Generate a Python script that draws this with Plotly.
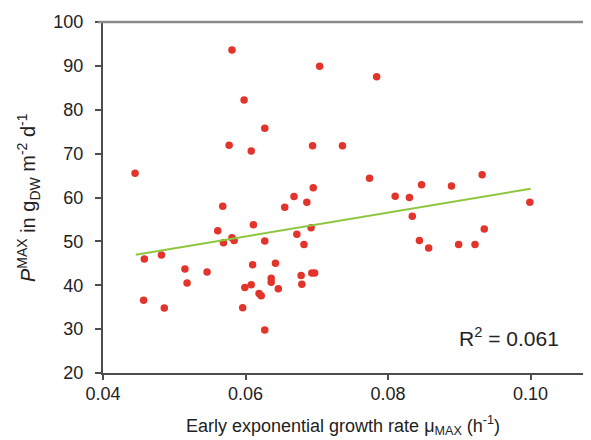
import plotly.graph_objects as go

# ── Data ─────────────────────────────────────────────────────────────────────
mu_max = [
    0.0445, 0.0581, 0.0598, 0.0627, 0.0577, 0.0608, 0.0568, 0.0668, 0.0655, 0.0686,
    0.0611, 0.0704, 0.0784, 0.0694, 0.0736, 0.0774, 0.0932, 0.0695, 0.0810, 0.0830,
    0.0847, 0.0889, 0.0999, 0.0834, 0.0458, 0.0482, 0.0457, 0.0486, 0.0515, 0.0518,
    0.0546, 0.0561, 0.0569, 0.0581, 0.0584, 0.0610, 0.0627, 0.0596, 0.0599, 0.0608,
    0.0619, 0.0622, 0.0627, 0.0636, 0.0636, 0.0642, 0.0646, 0.0672, 0.0682, 0.0678,
    0.0679, 0.0692, 0.0693, 0.0697, 0.0844, 0.0857, 0.0899, 0.0922, 0.0935,
]
p_max = [
    65.5, 93.6, 82.2, 75.8, 71.9, 70.6, 58.0, 60.2, 57.8, 58.9,
    53.8, 89.9, 87.5, 71.8, 71.8, 64.4, 65.2, 62.2, 60.3, 60.0,
    62.9, 62.6, 58.9, 55.7, 46.0, 46.9, 36.6, 34.8, 43.7, 40.5,
    43.0, 52.4, 49.7, 50.8, 50.2, 44.7, 50.1, 34.9, 39.5, 40.1,
    38.1, 37.6, 29.8, 41.6, 40.7, 45.0, 39.2, 51.6, 49.3, 42.2,
    40.2, 53.1, 42.8, 42.8, 50.2, 48.5, 49.3, 49.3, 52.8,
]
trend_x = [0.0446, 0.1000]
trend_y = [46.95, 62.0]
x_ticks = [0.04, 0.06, 0.08, 0.10]
x_tick_labels = ["0.04", "0.06", "0.08", "0.10"]
y_ticks = [20, 30, 40, 50, 60, 70, 80, 90, 100]
r2_text = "R<sup>2</sup> = 0.061"
x_title = "Early exponential growth rate μ<sub>MAX</sub> (h<sup>-1</sup>)"
y_title = "<i>P</i><sup>MAX</sup> in g<sub>DW</sub> m<sup>-2</sup> d<sup>-1</sup>"

FONT = "Liberation Sans, Arial, sans-serif"
AX = "#4d4d4d"

fig = go.Figure()
fig.add_trace(go.Scatter(
    x=mu_max, y=p_max, mode="markers",
    marker=dict(color="#e3342b", size=7.5, line_width=0),
    showlegend=False,
))
fig.add_trace(go.Scatter(
    x=trend_x, y=trend_y, mode="lines",
    line=dict(color="#8dc63f", width=2),
    showlegend=False,
))

fig.update_layout(
    width=591, height=440,
    paper_bgcolor="#fff", plot_bgcolor="#fff",
    font=dict(family=FONT, color="#222", size=18),
    margin=dict(l=95, r=0, t=14, b=75),
    xaxis=dict(
        range=[0.04, 0.1096], tickvals=x_ticks, ticktext=x_tick_labels,
        showgrid=False, zeroline=False,
        showline=True, linecolor=AX, linewidth=2,
        ticks="outside", ticklen=5, tickwidth=1.5, tickcolor=AX,
        ticklabelstandoff=-2,
    ),
    yaxis=dict(
        range=[20, 100], tickvals=y_ticks,
        showgrid=False, zeroline=False,
        showline=True, linecolor=AX, linewidth=2,
        ticks="outside", ticklen=6, tickwidth=1.5, tickcolor=AX,
        ticklabelstandoff=8,
    ),
    shapes=[dict(type="line", xref="paper", yref="paper", x0=-0.01, x1=1, y0=1, y1=1,
                 line=dict(color="#8a8a8a", width=2.5))],
    annotations=[
        dict(text=r2_text, xref="x", yref="y", x=0.1043, y=28.3,
             xanchor="right", yanchor="middle", showarrow=False,
             font=dict(size=21, color="#222")),
        dict(text=x_title, xref="paper", yref="paper", x=0.484, y=-0.15,
             xanchor="center", yanchor="middle", showarrow=False,
             font=dict(size=18, color="#222")),
        dict(text=y_title, xref="paper", yref="paper", x=-0.15, y=0.5,
             xanchor="center", yanchor="middle", showarrow=False, textangle=-90,
             font=dict(size=20, color="#222")),
    ],
)

fig.write_html("out.html")
